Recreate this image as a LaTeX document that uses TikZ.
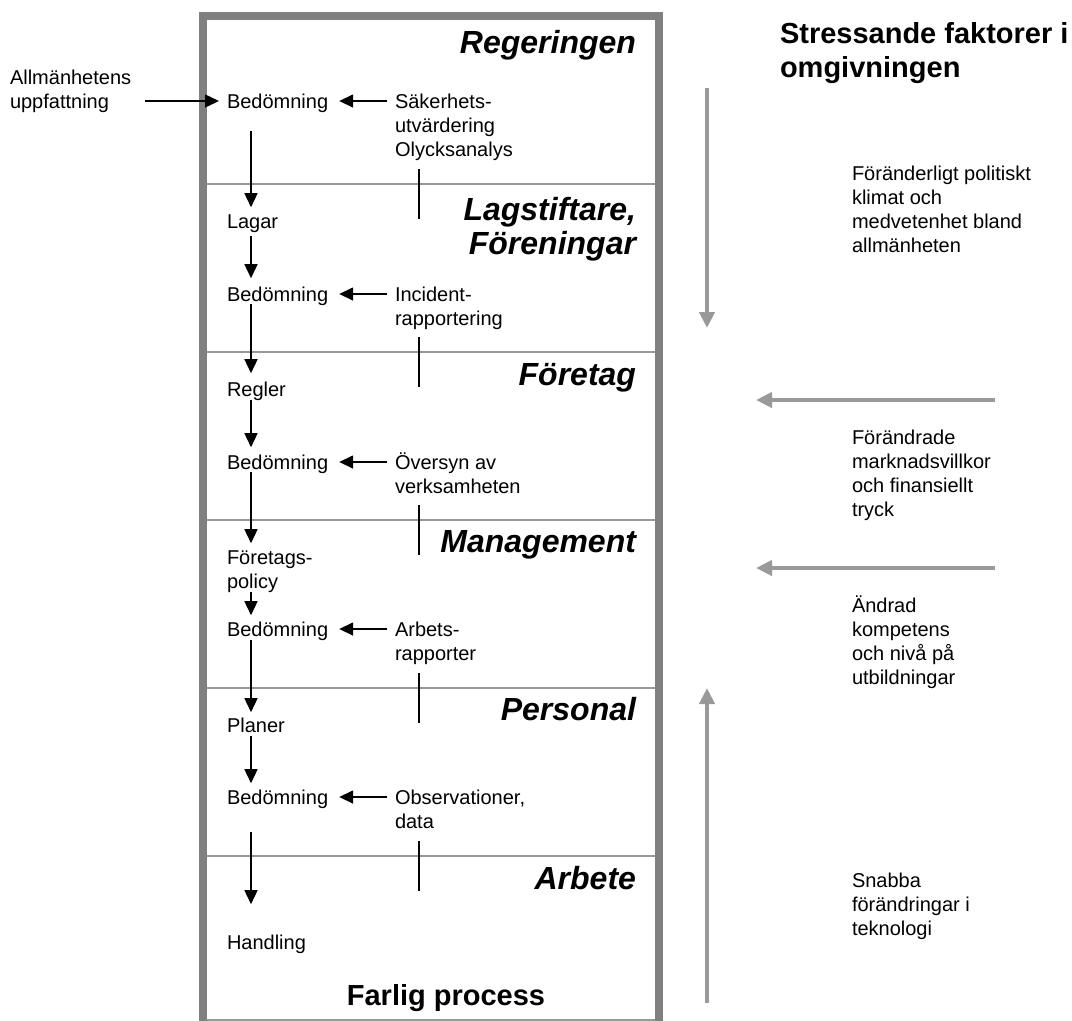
\documentclass[tikz,border=0pt]{standalone}
\usepackage{fontspec}
\setmainfont{Liberation Sans}
\usetikzlibrary{arrows.meta}
\definecolor{bordergray}{HTML}{808080}
\definecolor{linegray}{HTML}{999999}
\definecolor{arrgray}{HTML}{999999}
\newcommand\mytab[1]{\begin{tabular}[t]{@{}l@{}}#1\end{tabular}}
\begin{document}
\begin{tikzpicture}[x=1pt,y=-1pt,
 txt/.style={inner sep=0pt,outer sep=0pt,anchor=base west,font=\fontsize{20}{24}\selectfont},
 ttl/.style={inner sep=0pt,outer sep=0pt,anchor=base east,font=\fontsize{32}{34}\selectfont\bfseries\itshape},
 hdr/.style={inner sep=0pt,outer sep=0pt,font=\fontsize{29}{34}\selectfont\bfseries},
 arr/.style={line width=1.5pt,-{Triangle[width=13pt,length=14pt]}},
 stem/.style={line width=1.5pt},
 divider/.style={line width=2pt,draw=linegray},
 frame/.style={line width=8pt,draw=bordergray},
 garr/.style={line width=4pt,draw=arrgray,-{Triangle[width=15pt,length=16pt]}}
]
\useasboundingbox (0,0) rectangle (1072,1021);
% frame
\draw[frame] (203,1040) -- (203,16) -- (659,16) -- (659,1040);
\draw[line width=2pt,draw=linegray] (207,1020) -- (655,1020);
% dividers and stems
\foreach \y in {184,352,520,688,856}{
  \draw[divider] (207,\y) -- (655,\y);
  \draw[stem] (419,\y-15) -- (419,\y+35);
}
% titles
\node[ttl] (t1) at (636,53) {Regeringen};
\node[ttl,anchor=north east,align=right] (t2) at (636,197) {Lagstiftare,\\Föreningar};
\node[ttl] (t3) at (636,385) {Företag};
\node[ttl] (t4) at (636,552) {Management};
\node[ttl] (t5) at (636,720) {Personal};
\node[ttl] (t6) at (636,889) {Arbete};
% left column
\node[txt] (allm) at (10,84) {\mytab{Allmänhetens\\uppfattning}};
\node[txt] (bed1) at (227,108) {\mytab{Bedömning}};
\node[txt] (lagar) at (227,228) {\mytab{Lagar}};
\node[txt] (bed2) at (227,301) {\mytab{Bedömning}};
\node[txt] (regler) at (227,396) {\mytab{Regler}};
\node[txt] (bed3) at (227,469) {\mytab{Bedömning}};
\node[txt] (policy) at (227,564) {\mytab{Företags-\\policy}};
\node[txt] (bed4) at (227,636) {\mytab{Bedömning}};
\node[txt] (planer) at (227,732) {\mytab{Planer}};
\node[txt] (bed5) at (227,804) {\mytab{Bedömning}};
\node[txt] (hand) at (227,949) {\mytab{Handling}};
% middle column
\node[txt] (sak) at (395,108) {\mytab{Säkerhets-\\utvärdering\\Olycksanalys}};
\node[txt] (inc) at (395,301) {\mytab{Incident-\\rapportering}};
\node[txt] (over) at (395,469) {\mytab{Översyn av\\verksamheten}};
\node[txt] (arb) at (395,636) {\mytab{Arbets-\\rapporter}};
\node[txt] (obs) at (395,804) {\mytab{Observationer,\\data}};
% bottom and right
\node[hdr,anchor=base] (farlig) at (446,1005) {Farlig process};
\node[hdr,anchor=base west] (stress) at (780,43) {\mytab{Stressande faktorer i\\omgivningen}};
\node[txt] (f1) at (852,180) {\mytab{Föränderligt politiskt\\klimat och\\medvetenhet bland\\allmänheten}};
\node[txt] (f2) at (852,444) {\mytab{Förändrade\\marknadsvillkor\\och finansiellt\\tryck}};
\node[txt] (f3) at (852,612) {\mytab{Ändrad\\kompetens\\och nivå på\\utbildningar}};
\node[txt] (f4) at (852,887) {\mytab{Snabba\\förändringar i\\teknologi}};
% vertical arrows
\coordinate (ax) at (251,0);
\draw[arr,shorten <=16pt,shorten >=4pt] (bed1.south -| ax) -- (lagar.north -| ax);
\draw[arr,shorten <=1pt,shorten >=6pt] (lagar.south -| ax) -- (bed2.north -| ax);
\draw[arr,shorten <=-4pt,shorten >=6pt] (bed2.south -| ax) -- (regler.north -| ax);
\draw[arr,shorten <=-3pt,shorten >=5pt] (regler.south -| ax) -- (bed3.north -| ax);
\draw[arr,shorten <=-4pt,shorten >=4pt] (bed3.south -| ax) -- (policy.north -| ax);
\draw[arr,shorten <=-3pt,shorten >=4pt] (policy.south -| ax) -- (bed4.north -| ax);
\draw[arr,shorten <=-3pt,shorten >=3pt] (bed4.south -| ax) -- (planer.north -| ax);
\draw[arr,shorten <=-3pt,shorten >=4pt] (planer.south -| ax) -- (bed5.north -| ax);
\draw[arr,shorten <=21pt,shorten >=28pt] (bed5.south -| ax) -- (hand.north -| ax);
% horizontal arrows
\coordinate (ain) at ([yshift=7pt]bed1.base west);
\draw[arr,shorten <=14pt,shorten >=8pt] (allm.east |- ain) -- (ain);
\draw[arr,shorten <=8pt,shorten >=11pt] ([yshift=7pt]sak.base west) -- ([yshift=7pt]bed1.base east);
\draw[arr,shorten <=8pt,shorten >=11pt] ([yshift=7pt]inc.base west) -- ([yshift=7pt]bed2.base east);
\draw[arr,shorten <=8pt,shorten >=11pt] ([yshift=7pt]over.base west) -- ([yshift=7pt]bed3.base east);
\draw[arr,shorten <=8pt,shorten >=11pt] ([yshift=7pt]arb.base west) -- ([yshift=7pt]bed4.base east);
\draw[arr,shorten <=8pt,shorten >=11pt] ([yshift=7pt]obs.base west) -- ([yshift=7pt]bed5.base east);
% environmental stress arrows
\coordinate (g1s) at (707,88);  \coordinate (g1e) at (707,328);
\coordinate (g2s) at (995,400); \coordinate (g2e) at (756,400);
\coordinate (g3s) at (995,568); \coordinate (g3e) at (756,568);
\coordinate (g4s) at (707,1003);\coordinate (g4e) at (707,688);
\draw[garr] (g1s) -- (g1e);
\draw[garr] (g2s) -- (g2e);
\draw[garr] (g3s) -- (g3e);
\draw[garr] (g4s) -- (g4e);
\end{tikzpicture}
\end{document}
